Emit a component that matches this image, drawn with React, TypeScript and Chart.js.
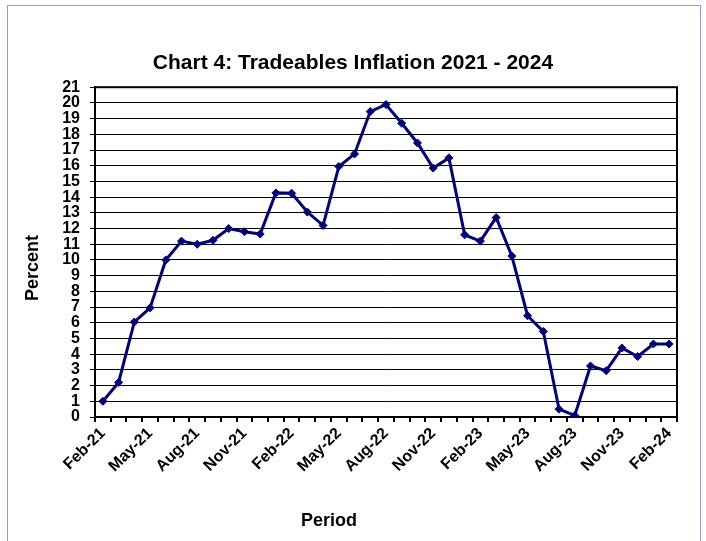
import React, { useEffect, useRef } from "react";
import { Chart, registerables } from "chart.js";

Chart.register(...registerables);

const periods: string[] = [
  "Feb-21", "Mar-21", "Apr-21", "May-21", "Jun-21", "Jul-21", "Aug-21", "Sep-21", "Oct-21", "Nov-21", "Dec-21", "Jan-22",
  "Feb-22", "Mar-22", "Apr-22", "May-22", "Jun-22", "Jul-22", "Aug-22", "Sep-22", "Oct-22", "Nov-22", "Dec-22", "Jan-23",
  "Feb-23", "Mar-23", "Apr-23", "May-23", "Jun-23", "Jul-23", "Aug-23", "Sep-23", "Oct-23", "Nov-23", "Dec-23", "Jan-24",
  "Feb-24",
];

const tradeablesInflation: number[] = [
  1.0, 2.2, 6.05, 6.95, 10.0, 11.2, 11.0, 11.25, 12.0, 11.8, 11.65, 14.27,
  14.25, 13.05, 12.2, 15.95, 16.75, 19.45, 19.9, 18.7, 17.45, 15.85, 16.5, 11.6,
  11.2, 12.7, 10.25, 6.45, 5.45, 0.5, 0.1, 3.25, 2.95, 4.4, 3.85, 4.65,
  4.65,
];

const yTicksMin = 0;
const yTicksMax = 21;

const titleText = "Chart 4: Tradeables Inflation 2021 - 2024";
const xAxisTitle = "Period";
const yAxisTitle = "Percent";

const FONT = "'Liberation Sans', Arial, Helvetica, sans-serif";

const framePlugin = {
  id: "frameAndTitles",
  beforeDatasetsDraw(chart: any) {
    const { ctx, chartArea: a } = chart;
    ctx.save();
    ctx.strokeStyle = "#000";
    ctx.lineWidth = 2;
    ctx.strokeRect(a.left, a.top, a.right - a.left, a.bottom - a.top);
    ctx.restore();
  },
  afterDraw(chart: any) {
    const { ctx } = chart;
    ctx.save();
    ctx.fillStyle = "#000";
    ctx.font = `bold 18px ${FONT}`;
    ctx.textAlign = "center";
    ctx.textBaseline = "middle";
    ctx.fillText(xAxisTitle, 329, 521);
    ctx.translate(33, 268);
    ctx.rotate(-Math.PI / 2);
    ctx.fillText(yAxisTitle, 0, 0);
    ctx.restore();
  },
};

export default function App() {
  const canvasRef = useRef<HTMLCanvasElement | null>(null);

  useEffect(() => {
    if (!canvasRef.current) return;
    const chart = new Chart(canvasRef.current, {
      type: "line",
      data: {
        labels: periods,
        datasets: [
          {
            label: "Tradeables inflation",
            data: tradeablesInflation,
            borderColor: "#000080",
            backgroundColor: "#000080",
            borderWidth: 3,
            pointStyle: "rectRot",
            pointRadius: 4,
            pointBorderWidth: 1,
            pointBackgroundColor: "#000080",
            pointBorderColor: "#000080",
            tension: 0,
          },
        ],
      },
      options: {
        animation: false,
        responsive: false,
        maintainAspectRatio: false,
        layout: { padding: { left: 0, right: 0, top: 0, bottom: 0 } },
        plugins: {
          legend: { display: false },
          tooltip: { enabled: false },
          title: {
            display: true,
            text: titleText,
            color: "#000",
            font: { family: FONT, size: 21, weight: "bold" },
            padding: { top: 51, bottom: 11 },
          },
        },
        scales: {
          x: {
            type: "category",
            offset: true,
            afterFit: (s: any) => {
              s.height = 124;
            },
            grid: {
              display: true,
              offset: true,
              drawOnChartArea: false,
              drawTicks: true,
              tickLength: 5,
              color: "#000",
              lineWidth: 2,
            },
            border: { display: true, color: "#000", width: 2 },
            ticks: {
              autoSkip: false,
              maxRotation: 45,
              minRotation: 45,
              padding: 2,
              color: "#000",
              font: { family: FONT, size: 16, weight: "bold" },
              callback: (_v: any, i: number) => (i % 3 === 0 ? periods[i] : ""),
            },
          },
          y: {
            min: yTicksMin,
            max: yTicksMax,
            afterFit: (s: any) => {
              s.width = 95;
            },
            grid: {
              display: true,
              color: "#000",
              lineWidth: 1,
              drawTicks: true,
              tickLength: 5,
            },
            border: { display: true, color: "#000", width: 2 },
            ticks: {
              stepSize: 1,
              autoSkip: false,
              padding: 10,
              color: "#000",
              font: { family: FONT, size: 16, weight: "bold" },
            },
          },
          yRightSpacer: {
            type: "linear",
            position: "right",
            display: true,
            min: yTicksMin,
            max: yTicksMax,
            afterFit: (s: any) => {
              s.width = 29;
            },
            grid: { display: false, drawOnChartArea: false },
            border: { display: false },
            ticks: { display: false },
          },
        },
      },
      plugins: [framePlugin],
    });
    return () => chart.destroy();
  }, []);

  return (
    <div style={{ position: "fixed", left: 0, top: 0, width: 706, height: 541, background: "#fff", overflow: "hidden" }}>
      <div
        style={{
          position: "absolute",
          left: 7,
          top: 5,
          width: 694,
          height: 600,
          border: "1px solid #8d9ccc",
          boxSizing: "border-box",
        }}
      />
      <canvas ref={canvasRef} width={706} height={541} style={{ position: "absolute", left: 0, top: 0, width: 706, height: 541 }} />
    </div>
  );
}
